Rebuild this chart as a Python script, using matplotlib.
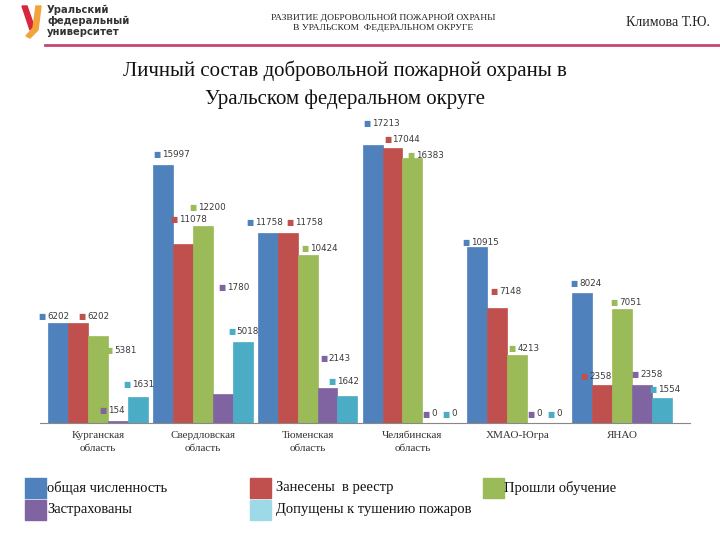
import matplotlib
matplotlib.use("Agg")
import matplotlib.pyplot as plt
from matplotlib.patches import Rectangle, Polygon
import numpy as np

categories = ["Курганская\nобласть", "Свердловская\nобласть", "Тюменская\nобласть",
              "Челябинская\nобласть", "ХМАО-Югра", "ЯНАО"]
series_names = ["общая численность", "Занесены  в реестр", "Прошли обучение",
                "Застрахованы", "Допущены к тушению пожаров"]
total = [6202, 15997, 11758, 17213, 10915, 8024]
registry = [6202, 11078, 11758, 17044, 7148, 2358]
trained = [5381, 12200, 10424, 16383, 4213, 7051]
insured = [154, 1780, 2143, 0, 0, 2358]
admitted = [1631, 5018, 1642, 0, 0, 1554]
series = [total, registry, trained, insured, admitted]
colors = ["#4F81BD", "#C0504D", "#9BBB59", "#8064A2", "#4BACC6"]
legend_colors = ["#4F81BD", "#C0504D", "#9BBB59", "#8064A2", "#9ED9E8"]

# label placement (pixel offsets of the marker from bar centre / bar top; down = positive)
label_dx = [[-16, -6, -18, -6, -11, -8],
            [4, -9, 2, -5, -3, -18],
            [11, -10, -3, -1, -5, -8],
            [-15, -1, -4, -6, -6, -7],
            [-11, -11, -15, -6, -6, -9]]
label_dy = [[-6, -10, -11, -21, -4, -10],
            [-6, -25, -11, -8, -16, -8],
            [14, -18, -6, -3, -6, -7],
            [-10, -107, -30, -9, -9, -10],
            [-12, -10, -15, -9, -9, -8]]

W, H = 720, 540
fig = plt.figure(figsize=(7.2, 5.4), dpi=100)
serif = "Liberation Serif"

def fx(px): return px / W
def fy(py): return 1 - py / H

# header
fig.add_artist(Polygon([[fx(22), fy(6)], [fx(27), fy(6)], [fx(34), fy(26)], [fx(30), fy(30)]],
                       closed=True, color="#D7263D", transform=fig.transFigure))
fig.add_artist(Polygon([[fx(36), fy(6)], [fx(41), fy(6)], [fx(38), fy(30)], [fx(30), fy(38)],
                        [fx(26), fy(36)], [fx(33), fy(28)]],
                       closed=True, color="#F2A33A", transform=fig.transFigure))
for i, t in enumerate(["Уральский", "федеральный", "университет"]):
    fig.text(fx(47), fy(10 + 11 * i), t, fontsize=7.2, fontweight="bold",
             color="#333333", va="center", ha="left", family="DejaVu Sans")
fig.text(fx(383), fy(17), "РАЗВИТИЕ ДОБРОВОЛЬНОЙ ПОЖАРНОЙ ОХРАНЫ", fontsize=6.8,
         family=serif, ha="center", va="center", color="#222222")
fig.text(fx(383), fy(28), "В УРАЛЬСКОМ  ФЕДЕРАЛЬНОМ ОКРУГЕ", fontsize=6.8,
         family=serif, ha="center", va="center", color="#222222")
fig.text(fx(668), fy(22), "Климова Т.Ю.", fontsize=10, family=serif,
         ha="center", va="center", color="#222222")
fig.add_artist(plt.Line2D([fx(45), fx(720)], [fy(45), fy(45)], color="#C8456F",
                          lw=2, transform=fig.transFigure))

# title
fig.text(fx(345), fy(71), "Личный состав добровольной пожарной охраны в", fontsize=15,
         family=serif, ha="center", va="center", color="#111111")
fig.text(fx(345), fy(99), "Уральском федеральном округе", fontsize=15,
         family=serif, ha="center", va="center", color="#111111")

# axes
ax_left, ax_right, ax_top, ax_bottom = 40, 690, 120, 423
ax = fig.add_axes([fx(ax_left), fy(ax_bottom), (ax_right - ax_left) / W, (ax_bottom - ax_top) / H])
ax.set_xlim(-0.553, 5.649)
ax.set_ylim(0, 18760)
for s in ["top", "right", "left"]:
    ax.spines[s].set_visible(False)
ax.spines["bottom"].set_color("#888888")
ax.set_yticks([])
x = np.arange(len(categories))
bw = 0.19
for k, (vals, c) in enumerate(zip(series, colors)):
    xs = x + (k - 2) * bw
    ax.bar(xs, vals, width=bw, color=c, edgecolor=c, linewidth=0.5)
    for j, (xi, v) in enumerate(zip(xs, vals)):
        dx, dy = label_dx[k][j], -label_dy[k][j]
        ax.annotate("■", (xi, v), xytext=(dx, dy), textcoords="offset pixels",
                    ha="center", va="center", fontsize=5.5, color=c)
        ax.annotate(f"{v}", (xi, v), xytext=(dx + 5, dy), textcoords="offset pixels",
                    ha="left", va="center", fontsize=6.3, color="#3a3a3a",
                    family="DejaVu Sans")
ax.set_xticks(x)
ax.set_xticklabels(categories, family=serif, fontsize=8, color="#333333", linespacing=1.5)
ax.tick_params(axis="x", length=0, pad=6)

# legend
rows = [488, 510]
cols = [(25, 47), (250, 276), (483, 504)]
pos = [(0, 0), (0, 1), (0, 2), (1, 0), (1, 1)]
for (r, cidx), name, c in zip(pos, series_names, legend_colors):
    sx, tx = cols[cidx]
    fig.add_artist(Rectangle((fx(sx), fy(rows[r] + 10)), 21 / W, 20 / H, color=c,
                             transform=fig.transFigure))
    fig.text(fx(tx), fy(rows[r]), name, fontsize=10.5, family=serif, ha="left",
             va="center", color="#111111")

fig.savefig("out.png", dpi=100)
